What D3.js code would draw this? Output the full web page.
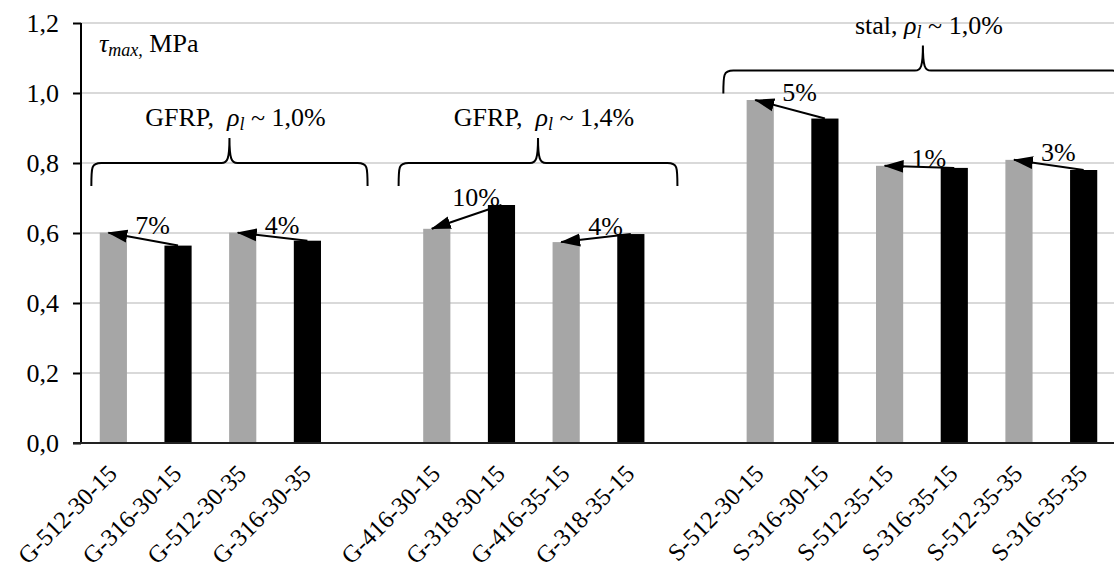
<!DOCTYPE html>
<html>
<head>
<meta charset="utf-8">
<script src="https://cdn.jsdelivr.net/npm/d3@7"></script>
<style>
  html, body { margin: 0; padding: 0; background: #fff; }
  svg { display: block; }
  svg text { font-family: "Liberation Serif", "Times New Roman", serif !important; }
</style>
</head>
<body>
<svg id="chart" width="1114" height="571"></svg>
<script>
// ---- data ----
const categories = ["G-512-30-15","G-316-30-15","G-512-30-35","G-316-30-35","",
  "G-416-30-15","G-318-30-15","G-416-35-15","G-318-35-15","",
  "S-512-30-15","S-316-30-15","S-512-35-15","S-316-35-15","S-512-35-35","S-316-35-35"];
const values = [0.601,0.564,0.601,0.578,null,
  0.612,0.680,0.574,0.597,null,
  0.980,0.927,0.792,0.786,0.809,0.780];
const barSeries = ["a","b","a","b",null,"a","b","a","b",null,"a","b","a","b","a","b"];
const yTicks = [0,0.2,0.4,0.6,0.8,1.0,1.2];
// [arrow tip bar index, arrow start bar index, label]
const diffs = [[0,1,"7%"],[2,3,"4%"],[5,6,"10%"],[7,8,"4%"],[10,11,"5%"],[12,13,"1%"],[14,15,"3%"]];
// braces: start/end in slot units, level in value units, label
const braceFrom = [0.16, 4.91, 9.93];
const braceTo = [4.43, 9.22, 16.1];
const braceLevel = [0.8, 0.8, 1.064];
const braceLabelPre = ["GFRP,\u00A0\u00A0", "GFRP,\u00A0\u00A0", "stal, "];
const braceLabelPost = [" ~ 1,0%", " ~ 1,4%", " ~ 1,0%"];

// ---- layout ----
const svg = d3.select("#chart");
const pL = 81, pR = 1116, pT = 23, pB = 443;
const font = 26;

const x = d3.scaleBand().domain(d3.range(categories.length)).range([pL, pR])
  .paddingInner(0.58).paddingOuter(0.29);
const xs = d3.scaleLinear().domain([0, categories.length]).range([pL, pR]);
const y = d3.scaleLinear().domain([0, 1.2]).range([pB, pT]);
const color = {a: "#a6a6a6", b: "#000000"};
const loc = d3.formatLocale({decimal: ",", thousands: " ", grouping: [3], currency: ["", ""]});
const fmt = loc.format(".1f");

// gridlines
svg.append("g").selectAll("line").data(yTicks.filter(d => d > 0)).join("line")
  .attr("x1", pL).attr("x2", 1114)
  .attr("y1", d => y(d)).attr("y2", d => y(d))
  .attr("stroke", "#d9d9d9").attr("stroke-width", 2);

// y axis
const yAxis = d3.axisLeft(y).tickValues(yTicks).tickFormat(fmt).tickSize(8).tickPadding(14);
const gy = svg.append("g").attr("transform", `translate(${pL},0)`).call(yAxis)
  .attr("font-family", null).attr("font-size", null);
gy.select(".domain").attr("stroke", "#000").attr("stroke-width", 2).attr("d", `M0,${pT}V${pB}`);
gy.selectAll(".tick line").attr("stroke", "#000").attr("stroke-width", 2);
gy.selectAll(".tick text").style("font-size", font + "px").attr("fill", "#000");

// bars
svg.append("g").selectAll("rect").data(values.map((v, i) => ({v, i})).filter(d => d.v != null)).join("rect")
  .attr("x", d => x(d.i)).attr("width", x.bandwidth())
  .attr("y", d => y(d.v)).attr("height", d => y(0) - y(d.v))
  .attr("fill", d => color[barSeries[d.i]]);

// x axis line
svg.append("line").attr("x1", pL - 8).attr("x2", 1114).attr("y1", y(0)).attr("y2", y(0))
  .attr("stroke", "#222").attr("stroke-width", 2);

// x labels
svg.append("g").selectAll("text").data(categories.map((c, i) => ({c, i})).filter(d => d.c)).join("text")
  .attr("transform", d => `translate(${x(d.i) + x.bandwidth() / 2 + 5},${y(0) + 32}) rotate(-45)`)
  .attr("text-anchor", "end").attr("font-size", 24.5).attr("fill", "#000")
  .text(d => d.c);

// axis title
const title = svg.append("text").attr("x", 99).attr("y", 52).attr("font-size", font).attr("fill", "#000");
title.append("tspan").attr("font-style", "italic").text("τ");
title.append("tspan").attr("font-style", "italic").attr("font-size", 18).attr("dy", 4).text("max,");
title.append("tspan").attr("dy", -4).text(" MPa");

// arrow marker
svg.append("defs").append("marker").attr("id", "ah")
  .attr("markerUnits", "userSpaceOnUse").attr("markerWidth", 20).attr("markerHeight", 14)
  .attr("viewBox", "0 -7 20 14").attr("refX", 19).attr("refY", 0).attr("orient", "auto")
  .append("path").attr("d", "M0,-6.5L20,0L0,6.5Z").attr("fill", "#000");

const cx = i => x(i) + x.bandwidth() / 2;
const ann = svg.append("g");
diffs.forEach(([a, b, lbl]) => {
  const x1 = cx(b), y1 = y(values[b]);
  const x2 = cx(a) - 5, y2 = y(values[a]);
  ann.append("line").attr("x1", x1).attr("y1", y1).attr("x2", x2).attr("y2", y2)
    .attr("stroke", "#000").attr("stroke-width", 2).attr("marker-end", "url(#ah)");
  ann.append("text").attr("x", (cx(a) + cx(b)) / 2 + 7)
    .attr("y", Math.min(y(values[a]), y(values[b])) + 1)
    .attr("text-anchor", "middle").attr("font-size", font).attr("fill", "#000").text(lbl);
});

// braces
const br = svg.append("g");
braceFrom.forEach((f, k) => {
  const xL = xs(f), xR = xs(braceTo[k]), xm = (xL + xR) / 2, y0 = y(braceLevel[k]);
  const dn = 23, up = 25;
  const p = `M${xL},${y0 + dn} C${xL},${y0 + 4} ${xL},${y0} ${xL + 10},${y0} L${xm - 8},${y0} C${xm - 2},${y0} ${xm},${y0 - 4} ${xm},${y0 - up} C${xm},${y0 - 4} ${xm + 2},${y0} ${xm + 8},${y0} L${xR - 10},${y0} C${xR},${y0} ${xR},${y0 + 4} ${xR},${y0 + dn}`;
  br.append("path").attr("d", p).attr("fill", "none").attr("stroke", "#000").attr("stroke-width", 2);
  const t = br.append("text").attr("x", xm + 6).attr("y", y0 - up - 12)
    .attr("text-anchor", "middle").attr("font-size", font).attr("fill", "#000");
  t.append("tspan").text(braceLabelPre[k]);
  t.append("tspan").attr("font-style", "italic").text("ρ");
  t.append("tspan").attr("font-style", "italic").attr("font-size", 18).attr("dy", 4).text("l");
  t.append("tspan").attr("dy", -4).text(braceLabelPost[k]);
});
</script>
</body>
</html>
